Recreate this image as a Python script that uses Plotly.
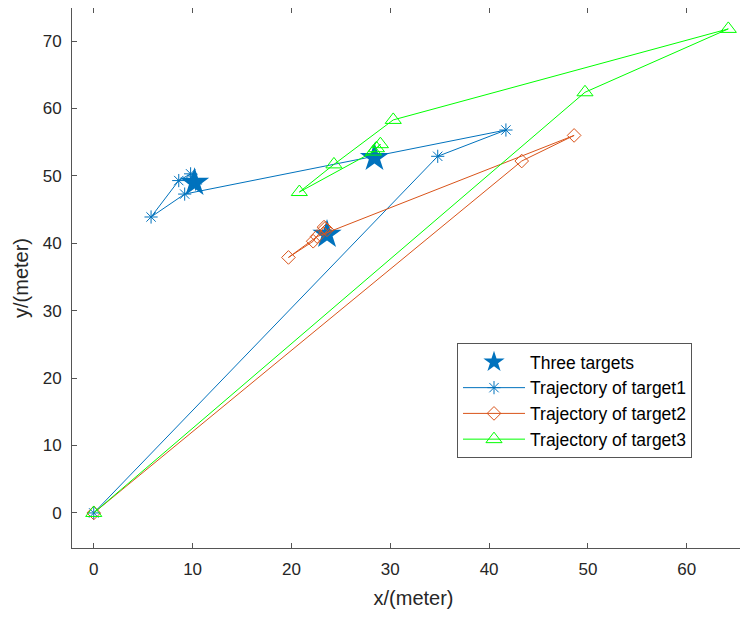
import plotly.graph_objects as go

# Three targets (true positions)
targets_x = [10.2, 23.6, 28.4]
targets_y = [49.0, 41.3, 52.7]

# Trajectory of target1
t1_x = [0, 34.8, 41.7, 9.2, 5.8, 8.6, 9.8, 10.0, 10.3]
t1_y = [0, 52.9, 56.8, 47.3, 43.9, 49.3, 50.3, 49.5, 48.8]

# Trajectory of target2
t2_x = [0, 43.3, 48.6, 22.6, 19.7, 22.2, 23.3, 23.6, 23.4]
t2_y = [0, 52.2, 56.0, 41.0, 37.9, 40.3, 42.4, 42.0, 42.2]

# Trajectory of target3
t3_x = [0, 49.7, 64.2, 30.3, 24.3, 20.8, 28.3, 29.0, 28.6]
t3_y = [0, 62.4, 71.8, 58.3, 51.7, 47.6, 53.6, 54.7, 54.1]

x_ticks = [0, 10, 20, 30, 40, 50, 60]
y_ticks = [0, 10, 20, 30, 40, 50, 60, 70]

BLUE = "#0072BD"
ORANGE = "#D95319"
GREEN = "#00FF00"

fig = go.Figure()
fig.add_trace(go.Scatter(x=targets_x, y=targets_y, mode="markers", name="Three targets",
                         marker=dict(symbol="star", size=22, color=BLUE, line=dict(width=0))))
fig.add_trace(go.Scatter(x=t1_x, y=t1_y, mode="lines+markers", name="Trajectory of target1",
                         line=dict(color=BLUE, width=1),
                         marker=dict(symbol="asterisk-open", size=11, color=BLUE,
                                     line=dict(color=BLUE, width=1))))
fig.add_trace(go.Scatter(x=t2_x, y=t2_y, mode="lines+markers", name="Trajectory of target2",
                         line=dict(color=ORANGE, width=1),
                         marker=dict(symbol="diamond-open", size=10.5, color=ORANGE,
                                     line=dict(color=ORANGE, width=1))))
fig.add_trace(go.Scatter(x=t3_x, y=t3_y, mode="lines+markers", name="Trajectory of target3",
                         line=dict(color=GREEN, width=1),
                         marker=dict(symbol="triangle-up-open", size=14, color=GREEN,
                                     line=dict(color=GREEN, width=1))))

axis_common = dict(showline=True, linecolor="#555555", linewidth=1, mirror="ticks",
                   ticks="inside", ticklen=5, tickcolor="#555555", showgrid=False,
                   zeroline=False, automargin=False, ticklabelstandoff=6,
                   tickfont=dict(family="Arial", size=17, color="#262626"))

fig.update_layout(
    width=748, height=618,
    margin=dict(l=64, r=1, t=0, b=78),
    plot_bgcolor="white", paper_bgcolor="white",
    xaxis=dict(range=[-2.2, 66.9], tickvals=x_ticks,
               title=dict(text="x/(meter)", font=dict(family="Arial", size=20, color="#262626"),
                          standoff=12),
               **axis_common),
    yaxis=dict(range=[-5.2, 74.9], tickvals=y_ticks,
               title=dict(text="y/(meter)", font=dict(family="Arial", size=20, color="#262626"),
                          standoff=8),
               **axis_common),
    legend=dict(x=0.5637, y=0.3796, xanchor="left", yanchor="top",
                bgcolor="white", bordercolor="#555555", borderwidth=1,
                font=dict(family="Arial", size=17.5, color="#000000"),
                itemsizing="trace", itemwidth=62, tracegroupgap=0),
    showlegend=True,
)

fig.write_html("out.html")
